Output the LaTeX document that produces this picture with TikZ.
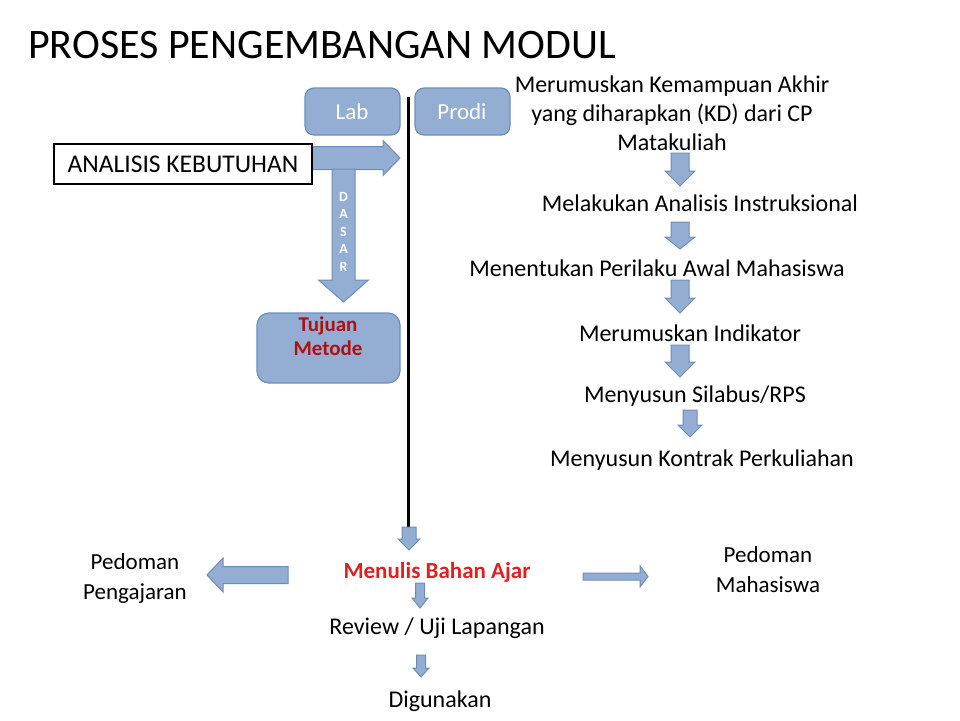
\documentclass[tikz,border=0pt]{standalone}
\usepackage{fontspec}
\setmainfont{Carlito}
\definecolor{bfill}{HTML}{93AED2}
\definecolor{bline}{HTML}{6D8DB8}
\definecolor{dred}{HTML}{B01010}
\definecolor{rred}{HTML}{E02020}
\tikzset{barrow/.style={fill=bfill,draw=bline,line width=1pt},
 rbox/.style={fill=bfill,draw=bline,line width=1.2pt,rounded corners=9pt},
 txt/.style={font=\fontsize{24}{29}\selectfont,align=center,inner sep=0pt}}
\newcommand\vdarrow[6]{\draw[barrow] ({#1-#4},#2) -- ({#1+#4},#2) -- ({#1+#4},{#3-#6}) -- ({#1+#5},{#3-#6}) -- (#1,#3) -- ({#1-#5},{#3-#6}) -- ({#1-#4},{#3-#6}) -- cycle;}
\newcommand\hzarrow[6]{\draw[barrow] (#2,{#1-#4}) -- ({#3-#6},{#1-#4}) -- ({#3-#6},{#1-#5}) -- (#3,#1) -- ({#3-#6},{#1+#5}) -- ({#3-#6},{#1+#4}) -- (#2,{#1+#4}) -- cycle;}
\begin{document}
\begin{tikzpicture}[x=1pt,y=-1pt]
\useasboundingbox (0,0) rectangle (960,720);
\node[anchor=west,inner sep=0pt,font=\fontsize{42}{46}\selectfont] (title) at (28,45) {PROSES PENGEMBANGAN MODUL};
% boxes
\draw[rbox] (305,88) rectangle (400,135);
\node[text=white,font=\fontsize{23}{26}\selectfont] (lab) at (352,112) {Lab};
\draw[rbox] (415,88) rectangle (510,135);
\node[text=white,font=\fontsize{23}{26}\selectfont] (prodi) at (462,112) {Prodi};
% vertical line
\coordinate (lt) at (408,97);
\coordinate (lb) at (408,530);
\draw[line width=3pt] (lt) -- (lb);
% analisis arrow
\hzarrow{158}{310}{400}{11.5}{17.5}{17}
\node[draw,line width=2.5pt,minimum width=258pt,minimum height=40pt,fill=white,font=\fontsize{25.5}{28}\selectfont] (ak) at (183,164) {ANALISIS KEBUTUHAN};
% dasar arrow
\vdarrow{343.5}{169}{302}{11.5}{25}{22}
\foreach \l [count=\i] in {D,A,S,A,R}
  \node[text=white,font=\bfseries\fontsize{14}{15}\selectfont,inner sep=0pt] (d\i) at (343.5,{179+17.5*\i}) {\l};
\draw[rbox,rounded corners=12pt] (257,313) rectangle (400,383);
\node[text=dred,font=\bfseries\fontsize{21}{24}\selectfont,align=center] (tm) at (328,336) {Tujuan\\Metode};
% right column
\node[txt] (r1) at (672,113) {Merumuskan Kemampuan Akhir\\yang diharapkan (KD) dari CP\\Matakuliah};
\vdarrow{680}{153}{186}{9}{15}{15}
\node[txt] (r2) at (700,203) {Melakukan Analisis Instruksional};
\vdarrow{680}{222}{249}{9}{15}{12}
\node[txt] (r3) at (657,268) {Menentukan Perilaku Awal Mahasiswa};
\vdarrow{680}{280}{313}{9}{15}{15}
\node[txt] (r4) at (690,333) {Merumuskan Indikator};
\vdarrow{680}{345}{377}{9}{15}{15}
\node[txt] (r5) at (695,396) {Menyusun Silabus/RPS};
\vdarrow{690}{410}{437}{7}{12}{12}
\node[txt] (r6) at (702,460) {Menyusun Kontrak Perkuliahan};
% bottom
\vdarrow{409}{527}{550}{7}{11}{11}
\node[font=\bfseries\fontsize{23}{26}\selectfont,text=rred] (mba) at (437,572) {Menulis Bahan Ajar};
\hzarrow{575}{288}{207}{8.5}{17}{-16}
\hzarrow{576.5}{583}{648}{3.5}{10.5}{8}
\node[txt,font=\fontsize{23}{30}\selectfont] (pp) at (135,578) {Pedoman\\Pengajaran};
\node[txt,font=\fontsize{23}{30}\selectfont] (pm) at (768,570) {Pedoman\\Mahasiswa};
\vdarrow{420}{583}{608}{4.5}{8}{10}
\node[txt] (rev) at (437,628) {Review / Uji Lapangan};
\vdarrow{421}{655}{677}{4.5}{8}{9}
\node[txt] (dig) at (440,701) {Digunakan};
\end{tikzpicture}
\end{document}
